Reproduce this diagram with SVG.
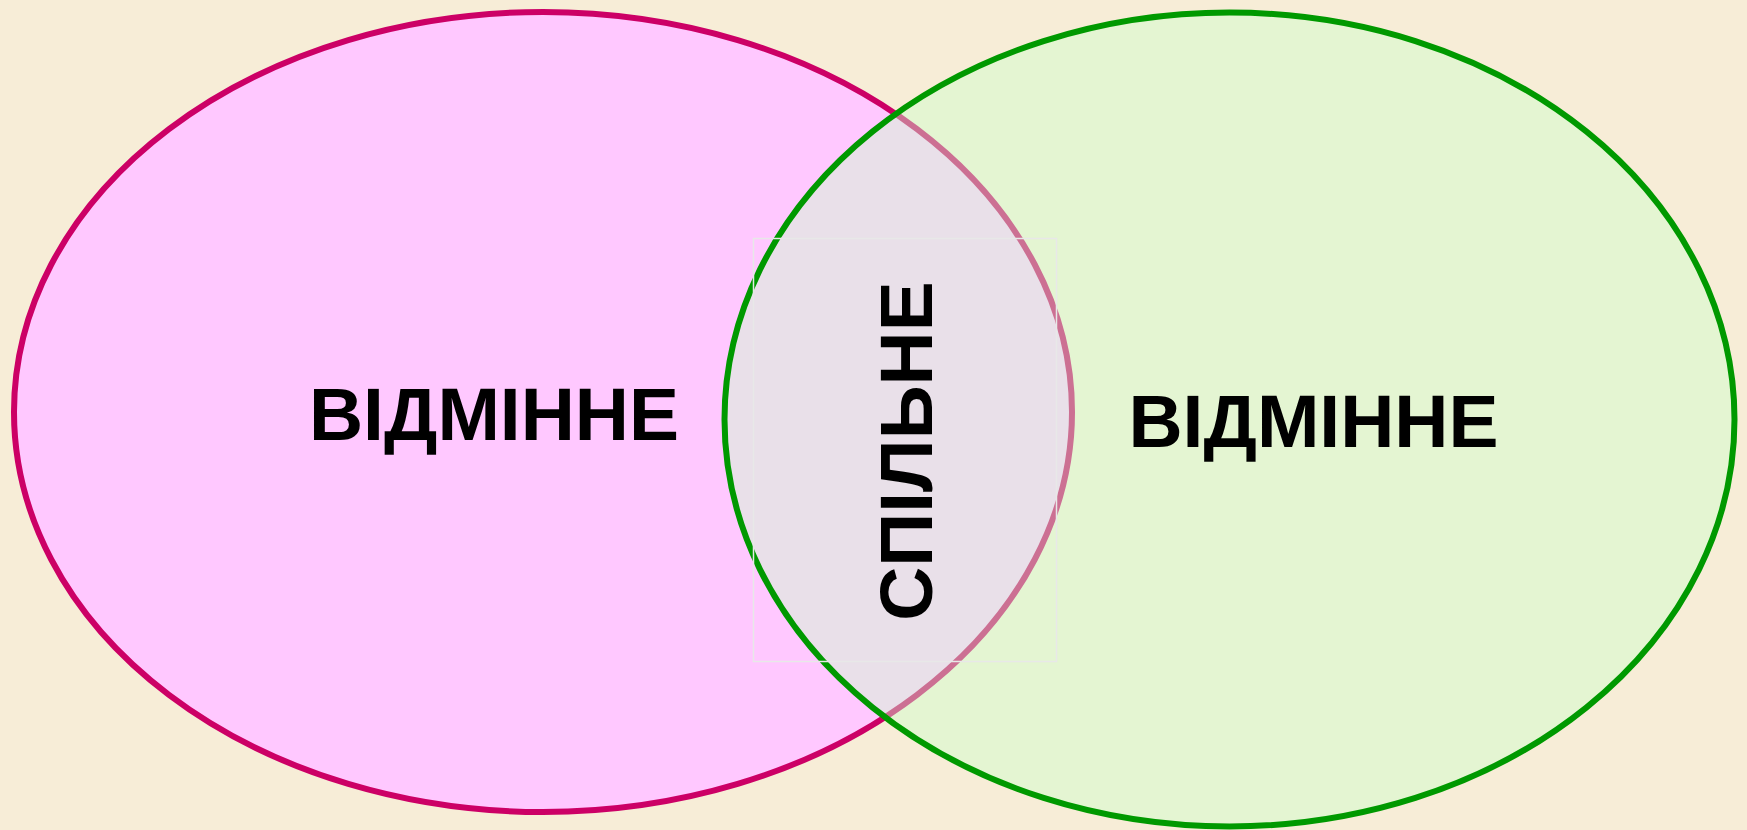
<svg xmlns="http://www.w3.org/2000/svg" width="1747" height="830" viewBox="0 0 1747 830">
<style>
.lbl{font-family:"Liberation Sans",Arial,sans-serif;font-weight:bold;font-size:75px;fill:#000;text-anchor:middle}
</style>
<rect x="0" y="0" width="1747" height="830" fill="#F7EDD7"/>
<g id="left">
<ellipse cx="543" cy="412" rx="529" ry="400" fill="#FFC8FF" stroke="#CC0066" stroke-width="6"/>
</g>
<g id="right">
<ellipse cx="1229.5" cy="419.5" rx="505" ry="407" fill="#CCFFCC" fill-opacity="0.44" stroke="#009900" stroke-width="6"/>
</g>
<g id="common-box">
<rect x="753.5" y="238.5" width="303" height="423" fill="none" stroke="#E8E8E8" stroke-width="1.5"/>
</g>
<g id="connectors"></g>
<g id="label-left">
<text class="lbl" x="494" y="440">ВІДМІННЕ</text>
</g>
<g id="label-right">
<text class="lbl" x="1313.5" y="447">ВІДМІННЕ</text>
</g>
<g id="label-common">
<text class="lbl" transform="translate(932,451) rotate(-90)">СПІЛЬНЕ</text>
</g>
</svg>
